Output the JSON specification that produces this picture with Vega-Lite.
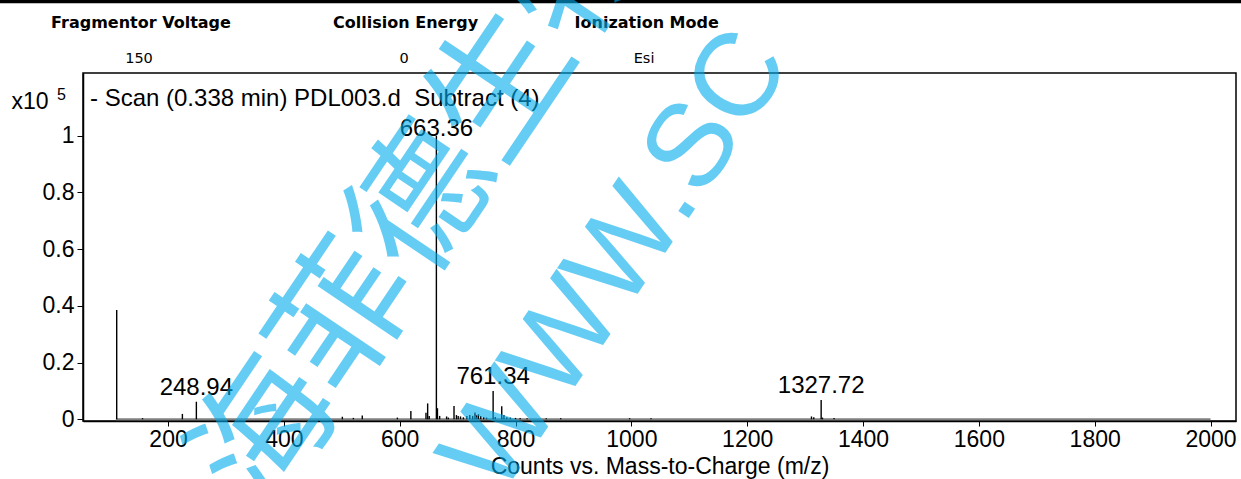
{
  "$schema": "https://vega.github.io/schema/vega-lite/v6.json",
  "width": 1153,
  "height": 348,
  "autosize": {"type": "none"},
  "padding": {"left": 83, "top": 73, "right": 5, "bottom": 58},
  "background": "white",
  "config": {
    "view": {"stroke": "black", "strokeWidth": 1.5},
    "font": "Liberation Sans",
    "axis": {"grid": false, "domainColor": "black", "domainWidth": 1.5, "tickColor": "black", "tickWidth": 1, "labelColor": "black", "titleColor": "black", "labelFont": "Liberation Sans", "titleFont": "Liberation Sans", "labelFontSize": 23, "titleFontSize": 23, "titleFontWeight": "normal"}
  },
  "datasets": {
    "peaks": [
      {"mz": 111.4, "intensity": 0.385},
      {"mz": 156, "intensity": 0.004},
      {"mz": 224.8, "intensity": 0.019},
      {"mz": 248.94, "intensity": 0.062, "label": "248.94"},
      {"mz": 501, "intensity": 0.009},
      {"mz": 520, "intensity": 0.005},
      {"mz": 535.4, "intensity": 0.013},
      {"mz": 596, "intensity": 0.006},
      {"mz": 619.3, "intensity": 0.029},
      {"mz": 645.4, "intensity": 0.023},
      {"mz": 648.3, "intensity": 0.056},
      {"mz": 651, "intensity": 0.012},
      {"mz": 663.36, "intensity": 1.0, "label": "663.36"},
      {"mz": 665.2, "intensity": 0.039},
      {"mz": 669, "intensity": 0.012},
      {"mz": 681, "intensity": 0.01},
      {"mz": 684, "intensity": 0.006},
      {"mz": 693.8, "intensity": 0.047},
      {"mz": 698, "intensity": 0.015},
      {"mz": 701, "intensity": 0.012},
      {"mz": 705, "intensity": 0.01},
      {"mz": 710, "intensity": 0.007},
      {"mz": 716, "intensity": 0.012},
      {"mz": 721, "intensity": 0.015},
      {"mz": 726, "intensity": 0.012},
      {"mz": 730, "intensity": 0.024},
      {"mz": 733, "intensity": 0.014},
      {"mz": 736, "intensity": 0.018},
      {"mz": 740, "intensity": 0.012},
      {"mz": 745, "intensity": 0.008},
      {"mz": 750, "intensity": 0.006},
      {"mz": 761.34, "intensity": 0.1, "label": "761.34"},
      {"mz": 765, "intensity": 0.008},
      {"mz": 776.2, "intensity": 0.046},
      {"mz": 780, "intensity": 0.015},
      {"mz": 785, "intensity": 0.007},
      {"mz": 791, "intensity": 0.006},
      {"mz": 800, "intensity": 0.005},
      {"mz": 808, "intensity": 0.005},
      {"mz": 820, "intensity": 0.004},
      {"mz": 853, "intensity": 0.004},
      {"mz": 878, "intensity": 0.004},
      {"mz": 997, "intensity": 0.004},
      {"mz": 1034, "intensity": 0.004},
      {"mz": 1311, "intensity": 0.01},
      {"mz": 1315, "intensity": 0.007},
      {"mz": 1327.72, "intensity": 0.068, "label": "1327.72"},
      {"mz": 1330, "intensity": 0.006},
      {"mz": 1350, "intensity": 0.005}
    ],
    "baseline": [{"start": 110, "end": 2000, "level": 0}]
  },
  "layer": [
    {
      "data": {"name": "baseline"},
      "mark": {"type": "rule", "color": "#808080", "strokeWidth": 2},
      "encoding": {
        "x": {"field": "start", "type": "quantitative", "scale": {"domain": [53.2, 2044], "nice": false, "zero": false}},
        "x2": {"field": "end"},
        "y": {"field": "level", "type": "quantitative", "scale": {"domain": [-0.006, 1.221], "nice": false, "zero": false}}
      }
    },
    {
      "data": {"name": "peaks"},
      "mark": {"type": "rule", "color": "black", "strokeWidth": 1.4},
      "encoding": {
        "x": {"field": "mz", "type": "quantitative", "scale": {"domain": [53.2, 2044], "nice": false, "zero": false},
          "axis": {"values": [200, 400, 600, 800, 1000, 1200, 1400, 1600, 1800, 2000], "format": "d", "tickSize": 5, "labelPadding": 2, "labelFlush": false, "labelOverlap": false, "title": "Counts vs. Mass-to-Charge (m/z)", "titleY": 52, "titleBaseline": "alphabetic"}},
        "y": {"field": "intensity", "type": "quantitative", "scale": {"domain": [-0.006, 1.221], "nice": false, "zero": false},
          "axis": {"values": [0, 0.2, 0.4, 0.6, 0.8, 1], "labelExpr": "'' + datum.value", "tickSize": 6, "labelPadding": 3, "labelFlush": false, "labelOverlap": false, "title": "x10", "titleAngle": 0, "titleAlign": "left", "titleBaseline": "alphabetic", "titleX": -72, "titleY": 35}},
        "y2": {"datum": 0}
      }
    },
    {
      "data": {"name": "peaks"},
      "transform": [{"filter": "datum.label != null && datum.intensity < 0.5"}],
      "mark": {"type": "text", "fontSize": 24, "align": "center", "baseline": "alphabetic", "dy": -7, "color": "black"},
      "encoding": {
        "x": {"field": "mz", "type": "quantitative"},
        "y": {"field": "intensity", "type": "quantitative"},
        "text": {"field": "label"}
      }
    },
    {
      "data": {"name": "peaks"},
      "transform": [{"filter": "datum.label != null && datum.intensity >= 0.5"}],
      "mark": {"type": "text", "fontSize": 24, "align": "center", "baseline": "alphabetic", "dy": 0, "color": "black"},
      "encoding": {
        "x": {"field": "mz", "type": "quantitative"},
        "y": {"field": "intensity", "type": "quantitative"},
        "text": {"field": "label"}
      }
    },
    {
      "data": {"values": [{"scan": "- Scan (0.338 min) PDL003.d\u00a0 Subtract (4)", "exponent": "5"}]},
      "layer": [
        {
          "mark": {"type": "text", "fontSize": 24, "align": "left", "baseline": "alphabetic", "dx": 7, "dy": 33, "color": "black"},
          "encoding": {"x": {"datum": 53.2}, "y": {"datum": 1.221}, "text": {"field": "scan"}}
        },
        {
          "mark": {"type": "text", "fontSize": 16, "align": "left", "baseline": "alphabetic", "dx": -26, "dy": 27, "color": "black"},
          "encoding": {"x": {"datum": 53.2}, "y": {"datum": 1.221}, "text": {"field": "exponent"}}
        }
      ]
    },
    {
      "data": {"values": [{"param": "Fragmentor Voltage", "setting": "150"}]},
      "layer": [
        {"mark": {"type": "text", "font": "DejaVu Sans", "fontWeight": "bold", "fontSize": 16, "align": "center", "baseline": "alphabetic", "dy": -44.7, "color": "black"},
         "encoding": {"x": {"datum": 153.3}, "y": {"datum": 1.221}, "text": {"field": "param"}}},
        {"mark": {"type": "text", "font": "DejaVu Sans", "fontSize": 14.5, "align": "center", "baseline": "alphabetic", "dy": -9.7, "color": "black"},
         "encoding": {"x": {"datum": 149.9}, "y": {"datum": 1.221}, "text": {"field": "setting"}}}
      ]
    },
    {
      "data": {"values": [{"param": "Collision Energy", "setting": "0"}]},
      "layer": [
        {"mark": {"type": "text", "font": "DejaVu Sans", "fontWeight": "bold", "fontSize": 16, "align": "center", "baseline": "alphabetic", "dy": -44.7, "color": "black"},
         "encoding": {"x": {"datum": 610.2}, "y": {"datum": 1.221}, "text": {"field": "param"}}},
        {"mark": {"type": "text", "font": "DejaVu Sans", "fontSize": 14.5, "align": "center", "baseline": "alphabetic", "dy": -9.7, "color": "black"},
         "encoding": {"x": {"datum": 607.5}, "y": {"datum": 1.221}, "text": {"field": "setting"}}}
      ]
    },
    {
      "data": {"values": [{"param": "Ionization Mode", "setting": "Esi"}]},
      "layer": [
        {"mark": {"type": "text", "font": "DejaVu Sans", "fontWeight": "bold", "fontSize": 16, "align": "center", "baseline": "alphabetic", "dy": -44.7, "color": "black"},
         "encoding": {"x": {"datum": 1026.5}, "y": {"datum": 1.221}, "text": {"field": "param"}}},
        {"mark": {"type": "text", "font": "DejaVu Sans", "fontSize": 14.5, "align": "center", "baseline": "alphabetic", "dy": -9.7, "color": "black"},
         "encoding": {"x": {"datum": 1021.9}, "y": {"datum": 1.221}, "text": {"field": "setting"}}}
      ]
    },
    {
      "data": {"values": [{"from": -91, "to": 2053, "level": 1.4732}]},
      "mark": {"type": "rule", "color": "black", "strokeWidth": 3.5},
      "encoding": {
        "x": {"field": "from", "type": "quantitative"},
        "x2": {"field": "to"},
        "y": {"field": "level", "type": "quantitative"}
      }
    },
    {
      "data": {"values": [{"watermark": "海菲德生物"}]},
      "mark": {"type": "text", "font": "Noto Sans CJK SC", "fontWeight": "normal", "fontSize": 140, "angle": -56, "align": "center", "baseline": "middle", "color": "#00ACEE", "opacity": 0.6},
      "encoding": {"x": {"datum": 645.4}, "y": {"datum": 0.7627}, "text": {"field": "watermark"}}
    },
    {
      "data": {"values": [{"watermark": "WWW.SC"}]},
      "mark": {"type": "text", "font": "Liberation Sans", "fontSize": 118, "angle": -56, "align": "right", "baseline": "middle", "color": "#00ACEE", "opacity": 0.6},
      "encoding": {"x": {"datum": 1228.4}, "y": {"datum": 1.3219}, "text": {"field": "watermark"}}
    }
  ]
}
